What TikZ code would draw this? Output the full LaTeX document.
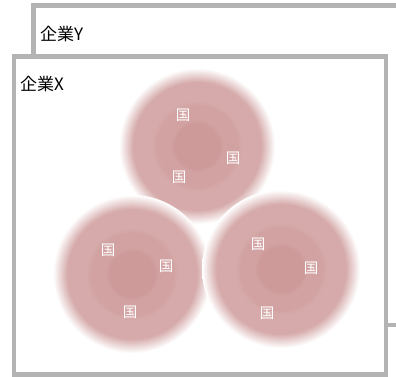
\documentclass[tikz,border=0pt]{standalone}
\usepackage{fontspec}
\setmainfont{Noto Sans CJK JP}
\newfontfamily\jpfont{Noto Sans CJK JP}
\definecolor{frame}{RGB}{179,179,179}
\definecolor{pko}{RGB}{214,170,170}
\definecolor{pkm}{RGB}{210,162,162}
\definecolor{pkc}{RGB}{205,153,153}
\definecolor{pkf}{RGB}{232,208,208}
\pgfdeclareradialshading{blob}{\pgfpoint{0bp}{0bp}}{color(0bp)=(pkc); color(7bp)=(pkc); color(8.5bp)=(pkm); color(13bp)=(pkm); color(14.5bp)=(pko); color(20.5bp)=(pko); color(22.5bp)=(pkf); color(25bp)=(white); color(50bp)=(white)}
\tikzset{
  company/.style={draw=frame, line width=4.5pt, fill=white},
  label/.style={anchor=base west, inner sep=0pt, font=\jpfont\fontsize{17}{18}\selectfont},
  koku/.style={text=white, inner sep=0pt, font=\jpfont\fontsize{14.5}{15}\selectfont}
}
\begin{document}
\begin{tikzpicture}[x=1pt,y=-1pt]
\useasboundingbox (0,0) rectangle (396,377);
\clip (0,0) rectangle (396,377);
% company Y (behind)
\draw[company] (33.5,5.5) rectangle (410,325);
\node[label] (ly) at (40,41) {企業Y};
% company X
\draw[company] (14,56.5) rectangle (386,374.5);
\node[label] (lx) at (20,91) {企業X};
% country groups
\coordinate (ct) at (197,146);
\coordinate (cl) at (132,274);
\coordinate (cr) at (281,269);
\shade[shading=blob] (ct) circle (78pt);
\shade[shading=blob] (cl) circle (79pt);
\shade[shading=blob] (cr) circle (79pt);
% country labels
\node[koku] (t1) at (183,115) {国};
\node[koku] (t2) at (233,158) {国};
\node[koku] (t3) at (179,177) {国};
\node[koku] (l1) at (108,250) {国};
\node[koku] (l2) at (166,266) {国};
\node[koku] (l3) at (130,312) {国};
\node[koku] (r1) at (258,244) {国};
\node[koku] (r2) at (311,268) {国};
\node[koku] (r3) at (267,313) {国};
\end{tikzpicture}
\end{document}
